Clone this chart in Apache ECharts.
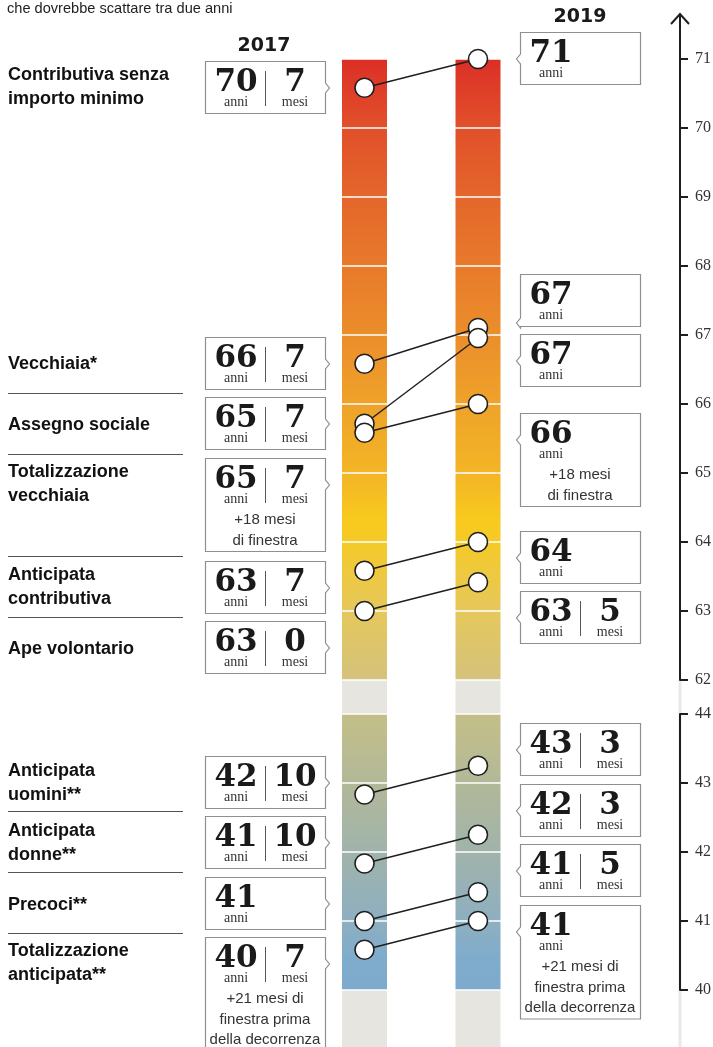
<!DOCTYPE html>
<html><head><meta charset="utf-8">
<script src="https://cdn.jsdelivr.net/npm/echarts@6/dist/echarts.min.js"></script>
<style>html,body{margin:0;padding:0;background:#fff}#c{width:713px;height:1047px}</style>
</head><body><div id="c"></div>
<script>
// ---------------- DATA ----------------
const categories = ['Contributiva senza\nimporto minimo','Vecchiaia*','Assegno sociale','Totalizzazione\nvecchiaia','Anticipata\ncontributiva','Ape volontario','Anticipata\nuomini**','Anticipata\ndonne**','Precoci**','Totalizzazione\nanticipata**'];
const years2017  = [70,66,65,65,63,63,42,41,41,40];
const months2017 = [7,7,7,7,7,0,10,10,null,7];
const years2019  = [71,67,67,66,64,63,43,42,41,41];
const months2019 = [null,null,null,null,null,5,3,3,5,null];
const notes2017 = ['','','','+18 mesi\ndi finestra','','','','','','+21 mesi di\nfinestra prima\ndella decorrenza'];
const notes2019 = ['','','','+18 mesi\ndi finestra','','','','','','+21 mesi di\nfinestra prima\ndella decorrenza'];
const scaleGroup = [0,0,0,0,0,0,1,1,1,1]; // 0: età (62-71), 1: anni di contributi (40-44)
const columnLabels = ['2017','2019'];
const subtitle = 'che dovrebbe scattare tra due anni';
const upperTicks = [62,63,64,65,66,67,68,69,70,71];
const lowerTicks = [40,41,42,43,44];
const upperStops = [[71,'#dc2f27'],[70,'#e1502a'],[69,'#e4662b'],[68,'#e87a2b'],[67,'#eb8e2b'],[66,'#efa22a'],[65,'#f3b526'],[64.3,'#f8ca1e'],[64,'#f5ca28'],[63,'#e6c75c'],[62,'#d4c27c']];
const lowerStops = [[44,'#c4bf87'],[43,'#b2b898'],[42,'#a0b3ab'],[41,'#8eafc0'],[40.5,'#80accb'],[40,'#7dabcd']];

// ---------------- LAYOUT ----------------
const W = 713, H = 1047;
const BAR_W = 45, COL0_X = 364.5, COL1_X = 478, AXIS_X = 680;
const UP_TOP = 59, UP_BOT = 680, LO_TOP = 714, LO_BOT = 990;
const ARROW_TOP = 14;
const labelY = [75,364,425,472,575,649,771,831,905,951];
const sepY = [393,454,556,617,811,872,933];
const leftBoxTop  = [61,337,397,458,561,621,756,816,877,937];
const rightBoxTop = [32,274,334,413,531,591,723,784,844,905];
const rightNotchBottom = [false,true,false,false,false,false,false,false,false,false];
const dotShift2017 = [0,0,-9,0,0,0,0,0,0,0];
const dotShift2019 = [0,-7,3,0,0,0,0,0,0,0];
const GRAY = '#e7e5e0';

function hexToRgb(h){return [parseInt(h.slice(1,3),16),parseInt(h.slice(3,5),16),parseInt(h.slice(5,7),16)];}
function colorAt(stops, v){
  const s = stops.slice().sort((a,b)=>a[0]-b[0]);
  if (v <= s[0][0]) return s[0][1];
  if (v >= s[s.length-1][0]) return s[s.length-1][1];
  for (let i=0;i<s.length-1;i++){
    if (v>=s[i][0] && v<=s[i+1][0]){
      const t=(v-s[i][0])/(s[i+1][0]-s[i][0]);
      const a=hexToRgb(s[i][1]), b=hexToRgb(s[i+1][1]);
      return 'rgb('+a.map((c,k)=>Math.round(c+(b[k]-c)*t)).join(',')+')';
    }
  }
}
function bandStops(stops, low){
  const out=[];
  for (let k=0;k<=10;k++){ out.push({offset:k/10, color:colorAt(stops, low+1-k/10)}); }
  return out;
}

function bandData(ticks){
  const d=[];
  for (let c=0;c<2;c++) for (let i=0;i<ticks.length-1;i++) d.push([c, ticks[i]]);
  return d;
}
function bandSeries(gridIdx, ticks, stops){
  return {
    type:'custom', xAxisIndex:gridIdx, yAxisIndex:gridIdx, z:1, silent:true,
    data: bandData(ticks),
    renderItem(params, api){
      const c=api.value(0), low=api.value(1);
      const t=api.coord([c, low+1]), b=api.coord([c, low]);
      return {type:'rect', shape:{x:t[0]-BAR_W/2, y:t[1]+0.75, width:BAR_W, height:b[1]-t[1]-1.5},
        style:{fill:new echarts.graphic.LinearGradient(0,0,0,1,bandStops(stops, low))}};
    }
  };
}
function graySeries(){
  return {
    type:'custom', xAxisIndex:1, yAxisIndex:1, z:1, silent:true,
    data:[[0],[1]],
    renderItem(params, api){
      const c=api.value(0);
      const t=api.coord([c, lowerTicks[lowerTicks.length-1]]), b=api.coord([c, lowerTicks[0]]);
      const gap = LO_TOP-UP_BOT;
      return {type:'group', children:[
        {type:'rect', shape:{x:t[0]-BAR_W/2, y:t[1]-gap+0.75, width:BAR_W, height:gap-1.5}, style:{fill:GRAY}},
        {type:'rect', shape:{x:b[0]-BAR_W/2, y:b[1]+0.75, width:BAR_W, height:api.getHeight()-b[1]}, style:{fill:GRAY}}
      ]};
    }
  };
}
function dotSeries(gridIdx){
  const d=[];
  categories.forEach((c,i)=>{ if(scaleGroup[i]===gridIdx) d.push([years2017[i]+(months2017[i]||0)/12, years2019[i]+(months2019[i]||0)/12, i]); });
  return {
    type:'custom', xAxisIndex:gridIdx, yAxisIndex:gridIdx, z:5, silent:true,
    data:d,
    renderItem(params, api){
      const i=api.value(2);
      const a=api.coord([0, api.value(0)]), b=api.coord([1, api.value(1)]);
      a[1]+=dotShift2017[i]; b[1]+=dotShift2019[i];
      const cs={fill:'#fff', stroke:'#1e1e1e', lineWidth:1.6};
      return {type:'group', children:[
        {type:'line', shape:{x1:a[0],y1:a[1],x2:b[0],y2:b[1]}, style:{stroke:'#1e1e1e', lineWidth:1.4}},
        {type:'circle', shape:{cx:a[0],cy:a[1],r:9.5}, style:cs},
        {type:'circle', shape:{cx:b[0],cy:b[1],r:9.5}, style:cs}
      ]};
    }
  };
}
function arrowSeries(){
  return {
    type:'custom', xAxisIndex:0, yAxisIndex:0, z:6, silent:true,
    data:[[1, upperTicks[upperTicks.length-1]]],
    renderItem(params, api){
      const p=api.coord([api.value(0), api.value(1)]);
      const ax=AXIS_X;
      return {type:'group', children:[
        {type:'line', shape:{x1:ax,y1:p[1]+1,x2:ax,y2:ARROW_TOP+1}, style:{stroke:'#1e1e1e', lineWidth:2}},
        {type:'polyline', shape:{points:[[ax-9,ARROW_TOP+10],[ax,ARROW_TOP],[ax+9,ARROW_TOP+10]]}, style:{stroke:'#1e1e1e', lineWidth:2, fill:null}}
      ]};
    }
  };
}

const axisCommon = {
  type:'value', position:'right', offset: AXIS_X-COL1_X, interval:1,
  axisLine:{show:true, onZero:false, lineStyle:{color:'#1e1e1e', width:2}},
  axisTick:{show:true, inside:false, length:8, lineStyle:{color:'#1e1e1e', width:2}},
  axisLabel:{show:true, margin:15, color:'#333', fontFamily:'Liberation Serif', fontSize:16, padding:[0,0,6,0]},
  splitLine:{show:false}
};

// ---------------- GRAPHIC (labels & boxes) ----------------
const SANS = "'Liberation Sans'";
const g = [];
g.push({type:'rect', z:-10, shape:{x:AXIS_X-1.5, y:UP_BOT, width:3, height:H-UP_BOT}, style:{fill:'#ebe9e5'}});
g.push({type:'text', style:{text:subtitle, x:7, y:9, verticalAlign:'middle', font:"14.6px "+SANS, fill:'#222'}});
g.push({type:'text', style:{text:columnLabels[0], x:264, y:46, align:'center', verticalAlign:'middle', font:"bold 19px 'DejaVu Sans'", fill:'#1a1a1a'}});
g.push({type:'text', style:{text:columnLabels[1], x:580, y:17, align:'center', verticalAlign:'middle', font:"bold 19px 'DejaVu Sans'", fill:'#1a1a1a'}});
categories.forEach((c,i)=>{
  g.push({type:'text', style:{text:c, x:8, y:labelY[i]-12.25, verticalAlign:'top', lineHeight:24.5, font:"bold 18px "+SANS, fill:'#111'}});
});
sepY.forEach(y=>g.push({type:'line', shape:{x1:8,y1:y+0.5,x2:183,y2:y+0.5}, style:{stroke:'#555', lineWidth:1}}));

function box(x0, top, years, months, note, side, notchBottom){
  const lines = note ? note.split('\n').length : 0;
  const h = 52 + lines*20.5;
  const x1 = x0+120, y0 = top+0.5, y1 = top+h+0.5, X0=x0+0.5, X1=x1+0.5;
  const n = notchBottom ? top+49 : top+27;
  const pts = side==='right'
    ? [[X0,y0],[X1,y0],[X1,n-5],[X1+4,n],[X1,n+5],[X1,y1],[X0,y1]]
    : [[X0,y0],[X1,y0],[X1,y1],[X0,y1],[X0,n+5],[X0-4,n],[X0,n-5]];
  g.push({type:'polygon', shape:{points:pts}, style:{fill:'#fff', stroke:'#8f8f8f', lineWidth:1.2}});
  const big = "bold 31px 'DejaVu Serif'", small = "14px 'Liberation Serif'";
  g.push({type:'text', style:{text:String(years), x:x0+31, y:top+22, align:'center', verticalAlign:'middle', font:big, fill:'#1a1a1a'}});
  g.push({type:'text', style:{text:'anni', x:x0+31, y:top+41, align:'center', verticalAlign:'middle', font:small, fill:'#333'}});
  if (months!==null){
    g.push({type:'line', shape:{x1:x0+60.5,y1:top+10,x2:x0+60.5,y2:top+45}, style:{stroke:'#555', lineWidth:1}});
    g.push({type:'text', style:{text:String(months), x:x0+90, y:top+22, align:'center', verticalAlign:'middle', font:big, fill:'#1a1a1a'}});
    g.push({type:'text', style:{text:'mesi', x:x0+90, y:top+41, align:'center', verticalAlign:'middle', font:small, fill:'#333'}});
  }
  if (note){
    g.push({type:'text', style:{text:note, x:x0+60, y:top+52, align:'center', verticalAlign:'top', lineHeight:20.5, font:"15px "+SANS, fill:'#333'}});
  }
}
categories.forEach((c,i)=>{
  box(205, leftBoxTop[i], years2017[i], months2017[i], notes2017[i], 'right', false);
  box(520, rightBoxTop[i], years2019[i], months2019[i], notes2019[i], 'left', rightNotchBottom[i]);
});

const option = {
  animation:false,
  backgroundColor:'#fff',
  grid:[
    {left:COL0_X, right:W-COL1_X, top:UP_TOP, bottom:H-UP_BOT, containLabel:false, outerBoundsMode:'none'},
    {left:COL0_X, right:W-COL1_X, top:LO_TOP, bottom:H-LO_BOT, containLabel:false, outerBoundsMode:'none'}
  ],
  xAxis:[
    {gridIndex:0, type:'value', min:0, max:1, show:false},
    {gridIndex:1, type:'value', min:0, max:1, show:false}
  ],
  yAxis:[
    Object.assign({gridIndex:0, min:upperTicks[0], max:upperTicks[upperTicks.length-1]}, axisCommon),
    Object.assign({gridIndex:1, min:lowerTicks[0], max:lowerTicks[lowerTicks.length-1]}, axisCommon)
  ],
  graphic:{elements:g},
  series:[
    bandSeries(0, upperTicks, upperStops),
    bandSeries(1, lowerTicks, lowerStops),
    graySeries(),
    arrowSeries(),
    dotSeries(0),
    dotSeries(1)
  ]
};
const chart = echarts.init(document.getElementById('c'), null, {renderer:'canvas'});
chart.setOption(option);
</script></body></html>
